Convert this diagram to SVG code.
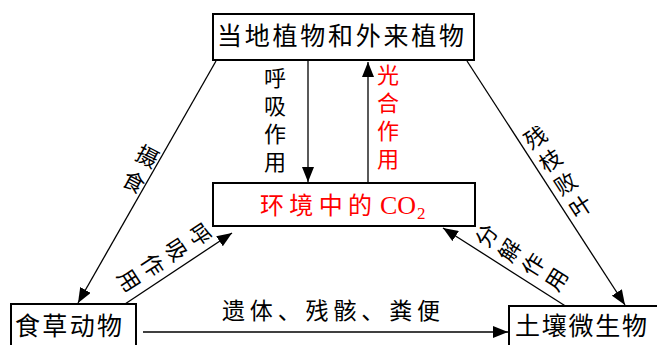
<svg xmlns="http://www.w3.org/2000/svg" width="657" height="345" viewBox="0 0 657 345">
<style>
.box{fill:#fff;stroke:#000;stroke-width:2}
.ln{stroke:#000;stroke-width:1.3;fill:none}
.t{font-family:"Liberation Serif","Noto Sans CJK SC",serif;fill:#000}
.big{font-size:25px}
.lbl{font-size:22px;text-anchor:middle;dominant-baseline:central}
.red{fill:#ff0000}
</style>
<defs>
<marker id="ah" markerUnits="userSpaceOnUse" markerWidth="16" markerHeight="12" refX="15" refY="6" orient="auto">
<path d="M0,0 L15,6 L0,12 Z" fill="#000"/>
</marker>
</defs>
<g id="connectors">
<line class="ln" x1="308" y1="61" x2="308" y2="182" marker-end="url(#ah)"/>
<line class="ln" x1="368" y1="183" x2="368" y2="62" marker-end="url(#ah)"/>
<line class="ln" x1="216" y1="61" x2="78" y2="303" marker-end="url(#ah)"/>
<line class="ln" x1="467" y1="61" x2="625" y2="305" marker-end="url(#ah)"/>
<line class="ln" x1="125" y1="304" x2="232" y2="233" marker-end="url(#ah)"/>
<line class="ln" x1="567" y1="307" x2="443" y2="228" marker-end="url(#ah)"/>
<line class="ln" x1="143" y1="332" x2="508" y2="332" marker-end="url(#ah)"/>
</g>
<g id="node-plants">
<rect class="box" x="213" y="14" width="261" height="46"/>
<text class="t big" x="217" y="36" dominant-baseline="central" textLength="247" lengthAdjust="spacing">当地植物和外来植物</text>
</g>
<g id="node-co2">
<rect class="box" x="213" y="183" width="262" height="43"/>
<text class="t red" x="260" y="214" font-size="24" textLength="112" lengthAdjust="spacing">环境中的</text>
<text class="t red" x="380" y="214" font-size="26">CO</text>
<text class="t red" x="417" y="219" font-size="17">2</text>
</g>
<g id="node-herbivore">
<rect class="box" x="11" y="304" width="125" height="50"/>
<text class="t big" x="15" y="326" dominant-baseline="central" textLength="107" lengthAdjust="spacing">食草动物</text>
</g>
<g id="node-microbe">
<rect class="box" x="509" y="306" width="160" height="50"/>
<text class="t big" x="515" y="326" dominant-baseline="central" textLength="132" lengthAdjust="spacing">土壤微生物</text>
</g>
<g id="labels">
<g class="t lbl">
<text x="275" y="78">呼</text><text x="275" y="106">吸</text><text x="275" y="134">作</text><text x="275" y="162">用</text>
</g>
<g class="t lbl red">
<text x="388" y="75">光</text><text x="388" y="103">合</text><text x="388" y="131">作</text><text x="388" y="159">用</text>
</g>
<g class="t lbl" transform="translate(147,157) rotate(28)">
<text x="0" y="0">摄</text><text x="0" y="29">食</text>
</g>
<g class="t lbl" transform="translate(536,138) rotate(-33)">
<text x="0" y="0">残</text><text x="0" y="27.5">枝</text><text x="0" y="55">败</text><text x="0" y="82.5">叶</text>
</g>
<g class="t lbl" transform="translate(199,235) rotate(57)">
<text x="0" y="0">呼</text><text x="0" y="28">吸</text><text x="0" y="56">作</text><text x="0" y="84">用</text>
</g>
<g class="t lbl" transform="translate(487,236) rotate(-58)">
<text x="0" y="0">分</text><text x="0" y="27.5">解</text><text x="0" y="55">作</text><text x="0" y="82.5">用</text>
</g>
<text class="t" x="222" y="319" font-size="23" textLength="218" lengthAdjust="spacing">遗体、残骸、粪便</text>
</g>
</svg>
